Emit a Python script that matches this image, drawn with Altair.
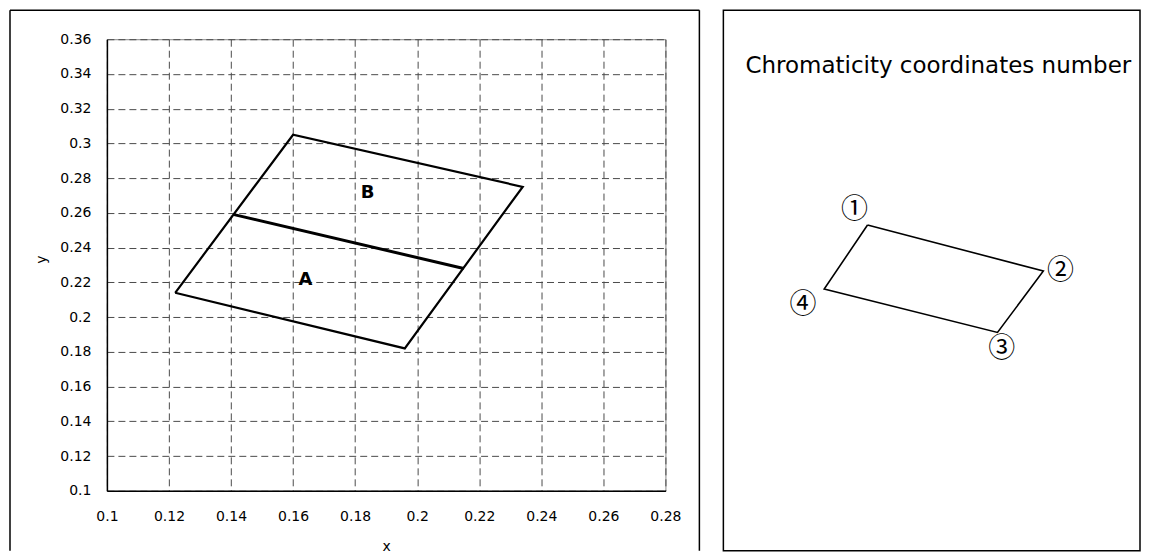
import altair as alt
import pandas as pd

# ---- data ----
x_ticks = [0.1, 0.12, 0.14, 0.16, 0.18, 0.2, 0.22, 0.24, 0.26, 0.28]
y_ticks = [0.1, 0.12, 0.14, 0.16, 0.18, 0.2, 0.22, 0.24, 0.26, 0.28, 0.3, 0.32, 0.34, 0.36]

outer_x = [0.122, 0.160, 0.234, 0.196, 0.122]
outer_y = [0.214, 0.305, 0.275, 0.182, 0.214]

mid_x = [0.141, 0.215]
mid_y = [0.259, 0.228]

region_names = ["A", "B"]
region_x = [0.164, 0.184]
region_y = [0.2213, 0.2716]

# schematic (relative units 0..1 inside the right-hand box)
sch_x = [0.346, 0.768, 0.658, 0.242, 0.346]
sch_y = [0.594, 0.510, 0.398, 0.477, 0.594]
sch_labels = ["①", "②", "③", "④"]
sch_label_x = [0.315, 0.809, 0.668, 0.191]
sch_label_y = [0.621, 0.510, 0.367, 0.448]
sch_title = "Chromaticity coordinates number"
sch_title_x = [0.516]
sch_title_y = [0.884]

FONT = "DejaVu Sans"
PW, PH = 559, 452
TOP = -29          # frame top relative to plot area
BOT = PH + 60      # frame bottom relative to plot area
RW = 417           # right box width

outer_df = pd.DataFrame({"x": outer_x, "y": outer_y, "i": range(len(outer_x))})
mid_df = pd.DataFrame({"x": mid_x, "y": mid_y, "i": range(len(mid_x))})
reg_df = pd.DataFrame({"x": region_x, "y": region_y, "t": region_names})

xs = alt.Scale(domain=[0.1, 0.28], nice=False, zero=False)
ys = alt.Scale(domain=[0.1, 0.36], nice=False, zero=False)

x_axis = alt.Axis(values=x_ticks, format="~g", grid=True, gridDash=[7, 4], gridColor="#4a4a4a",
                  gridWidth=1, ticks=False, domainColor="black", domainWidth=1.5,
                  labelFont=FONT, labelFontSize=14, labelColor="black", labelPadding=19,
                  labelFlush=False, labelOverlap=False,
                  title="x", titleFont=FONT, titleFontSize=14, titleFontWeight="normal",
                  titleColor="black", titleY=60, titleBaseline="alphabetic")
y_axis = alt.Axis(values=y_ticks, format="~g", grid=True, gridDash=[7, 4], gridColor="#4a4a4a",
                  gridWidth=1, ticks=False, domainColor="black", domainWidth=1.5,
                  labelFont=FONT, labelFontSize=14, labelColor="black", labelPadding=16,
                  labelFlush=False, labelOverlap=False,
                  title="y", titleFont=FONT, titleFontSize=14, titleFontWeight="normal",
                  titleColor="black", titleX=-61, titleY=PH / 2 - 6, titleAngle=270,
                  titleAlign="center", titleBaseline="alphabetic")

X = alt.X("x:Q", scale=xs, axis=x_axis)
Y = alt.Y("y:Q", scale=ys, axis=y_axis)

one = alt.Data(values=[{}])
frame_left = alt.Chart(one).mark_rule(color="black", strokeWidth=1.5).encode(
    x=alt.value(-97), y=alt.value(TOP), y2=alt.value(BOT))
frame_right = alt.Chart(one).mark_rule(color="black", strokeWidth=1.5).encode(
    x=alt.value(593), y=alt.value(TOP), y2=alt.value(BOT))
frame_top = alt.Chart(one).mark_rule(color="black", strokeWidth=1.5).encode(
    x=alt.value(-97), x2=alt.value(593), y=alt.value(TOP))

outer = alt.Chart(outer_df).mark_line(color="black", strokeWidth=2.2).encode(
    x=X, y=Y, order="i:O")
mid = alt.Chart(mid_df).mark_line(color="black", strokeWidth=3).encode(
    x=X, y=Y, order="i:O")
regions = alt.Chart(reg_df).mark_text(font=FONT, fontWeight="bold", fontSize=18,
                                      color="black", align="center", baseline="middle").encode(
    x=X, y=Y, text="t:N")

left = alt.layer(outer, mid, regions, frame_left, frame_right, frame_top).properties(
    width=PW, height=PH,
    view=alt.ViewBackground(stroke="#888", strokeWidth=1))

# ---- right panel ----
sch_df = pd.DataFrame({"x": sch_x, "y": sch_y, "i": range(len(sch_x))})
lab_df = pd.DataFrame({"x": sch_label_x, "y": sch_label_y, "t": sch_labels})
tit_df = pd.DataFrame({"x": sch_title_x, "y": sch_title_y, "t": [sch_title]})

ux = alt.Scale(domain=[0, 1], range=[0, RW], nice=False, zero=False)
uy = alt.Scale(domain=[0, 1], range=[BOT, TOP - 8], nice=False, zero=False)
UX = alt.X("x:Q", scale=ux, axis=None)
UY = alt.Y("y:Q", scale=uy, axis=None)

box = alt.Chart(one).mark_rect(fill="white", stroke="black", strokeWidth=1.5).encode(
    x=alt.value(0), x2=alt.value(RW), y=alt.value(TOP), y2=alt.value(BOT))
sch_line = alt.Chart(sch_df).mark_line(color="black", strokeWidth=1.6).encode(
    x=UX, y=UY, order="i:O")
sch_lab = alt.Chart(lab_df).mark_text(font="Noto Sans CJK JP", fontSize=27, color="black",
                                      align="center", baseline="middle").encode(
    x=UX, y=UY, text="t:N")
sch_tit = alt.Chart(tit_df).mark_text(font=FONT, fontSize=23, color="black",
                                      align="center", baseline="middle").encode(
    x=UX, y=UY, text="t:N")

right = alt.layer(box, sch_line, sch_lab, sch_tit).properties(
    width=RW, height=PH,
    view=alt.ViewBackground(stroke=None, strokeWidth=0))

chart = alt.hconcat(left, right, spacing=21).properties(padding=0, background="white")

chart.save("out.html", embed_options={"renderer": "svg", "actions": False})
